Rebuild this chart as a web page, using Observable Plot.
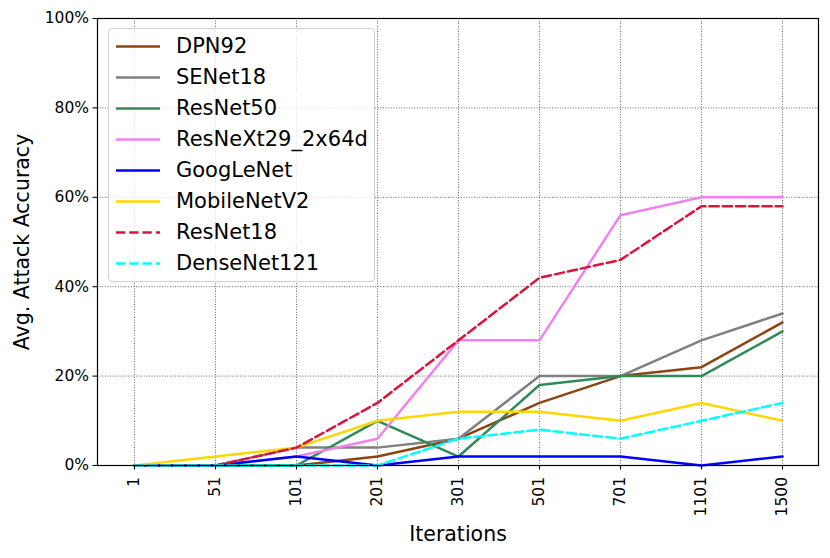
<!DOCTYPE html>
<html>
<head>
<meta charset="utf-8">
<script src="https://cdn.jsdelivr.net/npm/d3@7"></script>
<script src="https://cdn.jsdelivr.net/npm/@observablehq/plot@0.6"></script>
<style>
  body { margin: 0; background: #fff; font-family: "DejaVu Sans", sans-serif; }
  #wrap { position: relative; width: 830px; height: 558px; }
  #legend {
    position: absolute; left: 108px; top: 28px; width: 267px; height: 254px;
    border: 1px solid #d0d0d0; border-radius: 4px; background: rgba(255,255,255,0.8);
    box-sizing: border-box; padding-top: 1.5px;
  }
  .row { position: relative; height: 31px; }
  .row svg { position: absolute; left: 6px; top: 0; }
  .row span { position: absolute; left: 67px; top: 0; line-height: 31px; font-size: 21px; color: #000; white-space: nowrap; }
</style>
</head>
<body>
<div id="wrap"></div>
<script>
const iterations = ["1", "51", "101", "201", "301", "501", "701", "1101", "1500"];
const seriesNames = ["DPN92", "SENet18", "ResNet50", "ResNeXt29_2x64d", "GoogLeNet", "MobileNetV2", "ResNet18", "DenseNet121"];
const seriesColors = ["#8B4513", "#808080", "#2E8B57", "#EE82EE", "#0000FF", "#FFD700", "#DC143C", "#00FFFF"];
const seriesDashed = [false, false, false, false, false, false, true, true];
const dpn92       = [0, 0, 0, 2, 6, 14, 20, 22, 32];
const senet18     = [0, 0, 4, 4, 6, 20, 20, 28, 34];
const resnet50    = [0, 0, 0, 10, 2, 18, 20, 20, 30];
const resnext29   = [0, 0, 2, 6, 28, 28, 56, 60, 60];
const googlenet   = [0, 0, 2, 0, 2, 2, 2, 0, 2];
const mobilenetv2 = [0, 2, 4, 10, 12, 12, 10, 14, 10];
const resnet18    = [0, 0, 4, 14, 28, 42, 46, 58, 58];
const densenet121 = [0, 0, 0, 0, 6, 8, 6, 10, 14];
const yTicks = [0, 20, 40, 60, 80, 100];

const seriesValues = [dpn92, senet18, resnet50, resnext29, googlenet, mobilenetv2, resnet18, densenet121];
const DASH = "9.25,4";

const lineMarks = seriesNames.map((name, i) =>
  Plot.line(iterations.map((it, j) => ({it, v: seriesValues[i][j]})), {
    x: "it", y: "v", stroke: seriesColors[i], strokeWidth: 2.5,
    strokeDasharray: seriesDashed[i] ? DASH : null, curve: "linear"
  })
);

const chart = Plot.plot({
  width: 830, height: 558,
  marginLeft: 97, marginRight: 12, marginTop: 18, marginBottom: 93,
  style: { fontFamily: "DejaVu Sans, sans-serif", background: "#fff", color: "#000" },
  x: { type: "point", domain: iterations, padding: 0.4 },
  y: { domain: [0, 100] },
  marks: [
    Plot.gridX(iterations, { x: d => d, stroke: "#000", strokeOpacity: 0.75, strokeWidth: 0.8, strokeDasharray: "1,1.6" }),
    Plot.gridY(yTicks, { y: d => d, stroke: "#000", strokeOpacity: 0.75, strokeWidth: 0.8, strokeDasharray: "1,1.6" }),
    ...lineMarks,
    Plot.frame({ stroke: "#000", strokeWidth: 1.2 }),
    Plot.axisY(yTicks, { tickFormat: d => d + "%", fontSize: 15.5, tickSize: 4.5, tickPadding: 4, label: null, stroke: "#000", strokeWidth: 1.1 }),
    Plot.axisX(iterations, { tickRotate: -90, fontSize: 15.5, tickSize: 4.5, tickPadding: 7, label: null, stroke: "#000", strokeWidth: 1.1 }),
    Plot.text(["Avg. Attack Accuracy"], { frameAnchor: "left", textAnchor: "middle", rotate: -90, dx: -75, fontSize: 20.5, fill: "#000" }),
    Plot.text(["Iterations"], { frameAnchor: "bottom", textAnchor: "middle", dy: 75, fontSize: 20.5, fill: "#000" })
  ]
});

const wrap = document.getElementById("wrap");
wrap.appendChild(chart);

const legend = document.createElement("div");
legend.id = "legend";
seriesNames.forEach((name, i) => {
  const row = document.createElement("div");
  row.className = "row";
  row.innerHTML = `<svg width="46" height="31"><line x1="1" x2="45" y1="15.5" y2="15.5" stroke="${seriesColors[i]}" stroke-width="2.5" ${seriesDashed[i] ? `stroke-dasharray="${DASH}"` : ""}/></svg><span>${name}</span>`;
  legend.appendChild(row);
});
wrap.appendChild(legend);
</script>
</body>
</html>
